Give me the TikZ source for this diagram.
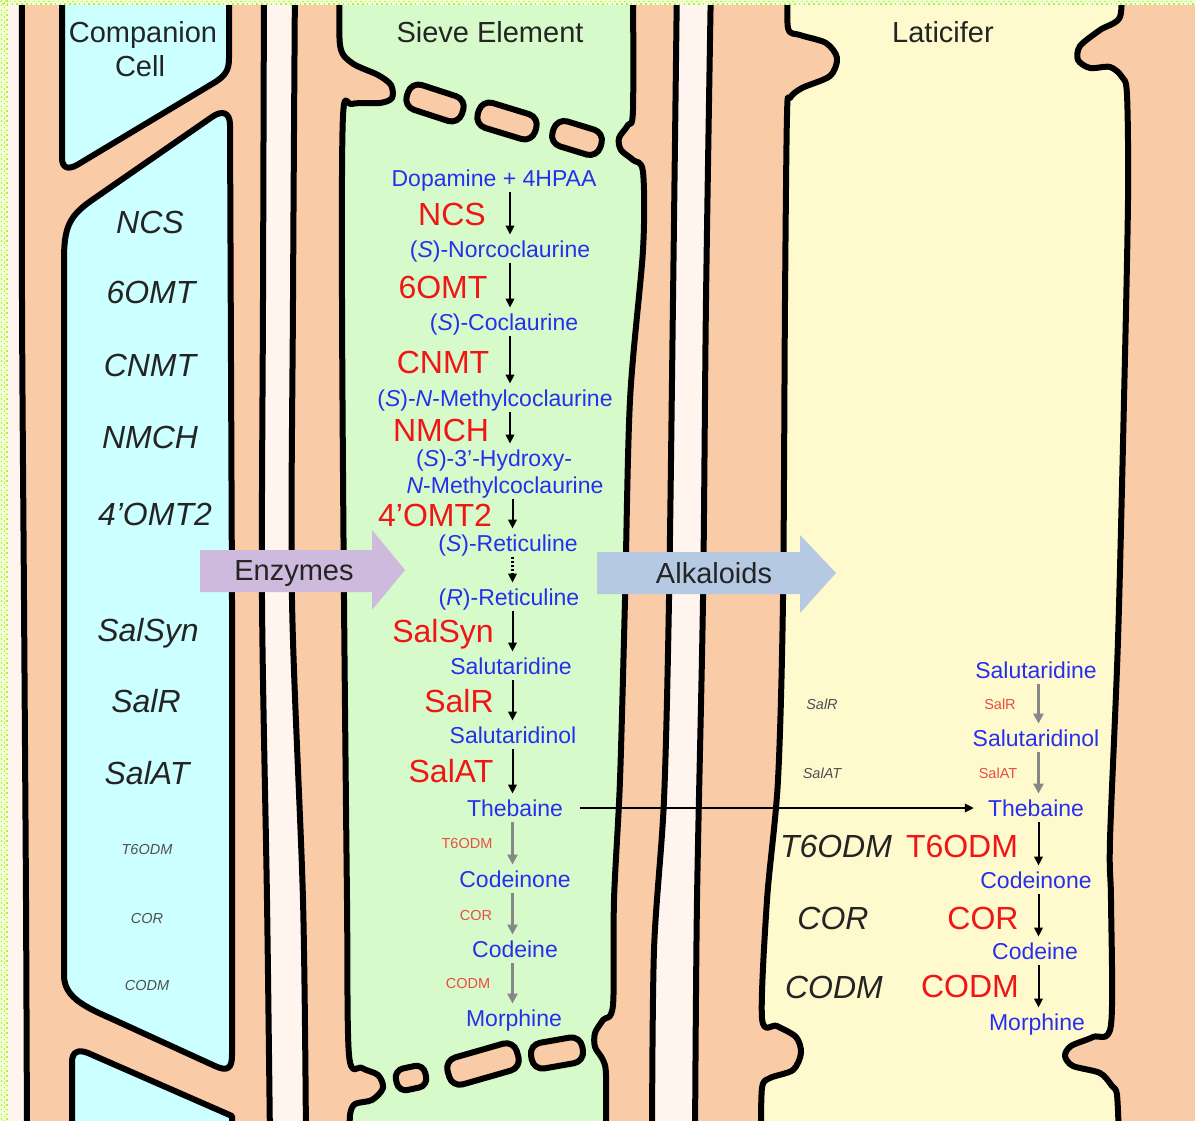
\documentclass[tikz,border=0pt]{standalone}
\usepackage{fontspec}
\setmainfont{Liberation Sans}
\usetikzlibrary{arrows.meta}

\definecolor{wallpeach}{RGB}{250,203,167}
\definecolor{compcyan}{RGB}{204,255,255}
\definecolor{sievegreen}{RGB}{214,250,201}
\definecolor{latyellow}{RGB}{255,250,206}
\definecolor{gapcream}{RGB}{255,245,238}
\definecolor{bandyellow}{RGB}{242,255,208}
\definecolor{banddot}{RGB}{176,238,80}
\definecolor{enzpurple}{RGB}{206,186,220}
\definecolor{alkblue}{RGB}{181,201,226}
\definecolor{metblue}{RGB}{38,48,236}
\definecolor{enzred}{RGB}{240,22,22}
\definecolor{smallred}{RGB}{232,78,66}
\definecolor{labelgray}{RGB}{36,36,36}
\definecolor{smallgray}{RGB}{80,80,80}
\definecolor{arrowgray}{RGB}{135,135,135}

\tikzset{
  wall/.style={line width=6pt, line join=round, line cap=round},
  plate/.style={wall, fill=wallpeach, rounded corners=11pt},
  header/.style={text=labelgray, font=\fontsize{29}{29}\selectfont, inner sep=0pt, text height=20.8pt, text depth=0pt},
  metab/.style={text=metblue, font=\fontsize{23}{23}\selectfont, inner sep=0pt, text height=16.5pt, text depth=0pt},
  enzlab/.style={text=enzred, font=\fontsize{32}{32}\selectfont, inner sep=0pt, text height=22.9pt, text depth=0pt},
  enzsmall/.style={text=smallred, font=\fontsize{14.5}{14.5}\selectfont, inner sep=0pt, text height=10.4pt, text depth=0pt},
  geneit/.style={text=labelgray, font=\fontsize{32}{32}\selectfont\itshape, inner sep=0pt, text height=22.9pt, text depth=0pt},
  genesmall/.style={text=smallgray, font=\fontsize{14.5}{14.5}\selectfont\itshape, inner sep=0pt, text height=10.4pt, text depth=0pt},
  conv/.style={-{Triangle[length=9pt,width=8.5pt]}, line width=2pt, shorten <=6pt, shorten >=6pt},
  convgray/.style={conv, draw=arrowgray, line width=2.6pt, -{Triangle[length=10pt,width=10pt]}}
}

\begin{document}
\begin{tikzpicture}[x=1pt,y=-1pt]
\useasboundingbox (0,0) rectangle (1195,1121);
\begin{scope}
\clip (0,0) rectangle (1195,1121);
% wall substance everywhere
\fill[wallpeach] (0,0) rectangle (1195,1121);

% outer strip on the left
\filldraw[wall, fill=gapcream] (-20,-20) -- plot[smooth] coordinates {(22,-20) (22,300) (24,600) (26,900) (27,1140)} -- (-20,1140) -- cycle;

% intercellular gaps
\filldraw[wall, fill=gapcream] plot[smooth] coordinates {(264,-20) (263,300) (262,600) (267,900) (270,1140)}
  -- plot[smooth] coordinates {(306,1140) (303,900) (292,600) (293,300) (295,-20)} -- cycle;
\filldraw[wall, fill=gapcream] plot[smooth] coordinates {(677,-20) (673,300) (669,600) (664,800) (654,950) (652,1140)}
  -- plot[smooth] coordinates {(695,1140) (697,900) (703,600) (706,300) (711,-20)} -- cycle;

% companion cells
\filldraw[wall, fill=compcyan] (62,-20) -- (62,158) .. controls (62,168) and (68,170) .. (77,165)
  -- (212,84) .. controls (226,76) and (229,70) .. (229,58) -- (229,-20) -- cycle;
\filldraw[wall, fill=compcyan] (232,600) -- (230,125) .. controls (230,112) and (222,110) .. (212,117)
  -- (95,198) .. controls (70,215) and (64,225) .. (64,260) -- (64,975)
  .. controls (64,995) and (80,1005) .. (110,1018) -- (215,1066)
  .. controls (228,1072) and (232,1068) .. (232,1055) -- cycle;
\filldraw[wall, fill=compcyan] (72,1140) -- (72,1062) .. controls (72,1052) and (78,1049) .. (88,1053)
  -- (232,1116) -- (232,1140) -- cycle;

% sieve element
\filldraw[wall, fill=sievegreen] plot[smooth, tension=0.5] coordinates {(340,-20) (340,45) (352,63) (378,75) (391,85) (392,98) (380,103) (352,104) (343,116) (342,300) (344,600) (347,900) (349,1055) (362,1068) (378,1075) (383,1088) (372,1100) (355,1104) (350,1115) (350,1140)}
  -- plot[smooth, tension=0.5] coordinates {(606,1140) (606,1075) (603,1060) (595,1047) (595,1033) (603,1020) (613,1005) (614,900) (620,780) (625,600) (630,400) (643,250) (643,172) (633,160) (621,150) (619,138) (628,125) (633,110) (633,-20)} -- cycle;

% sieve plates
\draw[plate, rotate around={-18:(435,103)}] (406,90) rectangle (464,116);
\draw[plate, rotate around={-17:(507,121)}] (477,108) rectangle (537,134);
\draw[plate, rotate around={-17:(577,138)}] (552,125) rectangle (602,151);
\draw[plate, rounded corners=9pt, rotate around={12:(411,1078)}] (396,1067) rectangle (426,1089);
\draw[plate, rotate around={16:(483,1064)}] (447,1050) rectangle (519,1078);
\draw[plate, rotate around={10:(557,1053)}] (531,1040) rectangle (583,1066);

% laticifer
\filldraw[wall, fill=latyellow] plot[smooth, tension=0.5] coordinates {(788,-20) (788,28) (800,35) (826,43) (837,58) (830,76) (802,88) (790,98) (787,115) (785,300) (783,600) (778,780) (767,900) (762,1018) (777,1026) (796,1037) (801,1053) (793,1070) (770,1078) (762,1088) (761,1140)}
  -- plot[smooth, tension=0.5] coordinates {(1119,1140) (1117,1095) (1112,1086) (1100,1073) (1073,1066) (1065,1056) (1071,1046) (1093,1037) (1111,1025) (1111,900) (1110,840) (1118,640) (1124,400) (1128,200) (1127,95) (1122,77) (1110,67) (1090,68) (1078,60) (1080,46) (1100,30) (1120,17) (1121,-20)} -- cycle;

% frame band
\fill[bandyellow] (0,0) rectangle (1195,5);
\fill[bandyellow] (0,0) rectangle (8,1121);
\draw[banddot, line width=1.6pt, dash pattern=on 1.6pt off 3.2pt] (0,1.5) -- (1195,1.5);
\draw[banddot, line width=1.6pt, dash pattern=on 1.6pt off 3.2pt] (2,3.9) -- (1195,3.9);
\draw[banddot, line width=1.6pt, dash pattern=on 1.6pt off 3.2pt] (1.5,0) -- (1.5,1121);
\draw[banddot, line width=1.6pt, dash pattern=on 1.6pt off 3.2pt] (4.4,2) -- (4.4,1121);
\draw[banddot, line width=1.6pt, dash pattern=on 1.6pt off 3.2pt] (7,0) -- (7,1121);
\end{scope}

% transport arrows
\fill[enzpurple] (200,550) -- (372,550) -- (372,530) -- (405,570) -- (372,610) -- (372,592) -- (200,592) -- cycle;
\fill[alkblue] (597,552) -- (800,552) -- (800,535) -- (836,573) -- (800,613) -- (800,594) -- (597,594) -- cycle;
\node[header] (enz) at (294,570) {Enzymes};
\node[header] (alk) at (714,573) {Alkaloids};

% cell names
\node[header] (hdcompA) at (143,32) {Companion};
\node[header] (hdcompB) at (140,66) {Cell};
\node[header] (hdsieve) at (490,32) {Sieve Element};
\node[header] (hdlat) at (943,32) {Laticifer};

% enzymes found in the companion cell
\node[geneit] (cNCS) at (150,222) {NCS};
\node[geneit] (c6OMT) at (151,292) {6OMT};
\node[geneit] (cCNMT) at (150,365) {CNMT};
\node[geneit] (cNMCH) at (150,437) {NMCH};
\node[geneit] (c4OMT) at (155,514) {4’OMT2};
\node[geneit] (cSalSyn) at (148,630) {SalSyn};
\node[geneit] (cSalR) at (146,701) {SalR};
\node[geneit] (cSalAT) at (147,773) {SalAT};
\node[genesmall] (cT6) at (147,849) {T6ODM};
\node[genesmall] (cCOR) at (147,918) {COR};
\node[genesmall] (cCODM) at (147,985) {CODM};

% pathway in the sieve element
\coordinate (sAxA) at (510,0);
\coordinate (sAxB) at (512.5,0);
\node[metab] (sDopa) at (494,178) {Dopamine + 4HPAA};
\node[metab] (sNorco) at (500,249) {(\textit{S})-Norcoclaurine};
\node[metab] (sCocl) at (504,322) {(\textit{S})-Coclaurine};
\node[metab] (sNMC) at (495,398) {(\textit{S})-\textit{N}-Methylcoclaurine};
\node[metab] (sHyd) at (494,458) {(\textit{S})-3’-Hydroxy-};
\node[metab] (sHydB) at (505,485) {\textit{N}-Methylcoclaurine};
\node[metab] (sSRet) at (508,543) {(\textit{S})-Reticuline};
\node[metab] (sRRet) at (509,597) {(\textit{R})-Reticuline};
\node[metab] (sSalut) at (511,666) {Salutaridine};
\node[metab] (sSalol) at (513,735) {Salutaridinol};
\node[metab] (sTheb) at (515,808) {Thebaine};
\node[metab] (sCodone) at (515,879) {Codeinone};
\node[metab] (sCodeine) at (515,949) {Codeine};
\node[metab] (sMorph) at (514,1018) {Morphine};

\node[enzlab] (eNCS) at (452,214) {NCS};
\node[enzlab] (e6OMT) at (443,287) {6OMT};
\node[enzlab] (eCNMT) at (443,362) {CNMT};
\node[enzlab] (eNMCH) at (441,430) {NMCH};
\node[enzlab] (e4OMT) at (435,515) {4’OMT2};
\node[enzlab] (eSalSyn) at (443,631) {SalSyn};
\node[enzlab] (eSalR) at (459,701) {SalR};
\node[enzlab] (eSalAT) at (451,771) {SalAT};
\node[enzsmall] (eT6) at (467,843) {T6ODM};
\node[enzsmall] (eCOR) at (476,915) {COR};
\node[enzsmall] (eCODM) at (468,983) {CODM};

\draw[conv] (sDopa.south -| sAxA) -- (sNorco.north -| sAxA);
\draw[conv] (sNorco.south -| sAxA) -- (sCocl.north -| sAxA);
\draw[conv] (sCocl.south -| sAxA) -- (sNMC.north -| sAxA);
\draw[conv] (sNMC.south -| sAxA) -- (sHyd.north -| sAxA);
\draw[conv] (sHydB.south -| sAxB) -- (sSRet.north -| sAxB);
\draw[conv, dotted, line width=2.2pt] (sSRet.south -| sAxB) -- (sRRet.north -| sAxB);
\draw[conv] (sRRet.south -| sAxB) -- (sSalut.north -| sAxB);
\draw[conv] (sSalut.south -| sAxB) -- (sSalol.north -| sAxB);
\draw[conv] (sSalol.south -| sAxB) -- (sTheb.north -| sAxB);
\draw[convgray] (sTheb.south -| sAxB) -- (sCodone.north -| sAxB);
\draw[convgray] (sCodone.south -| sAxB) -- (sCodeine.north -| sAxB);
\draw[convgray] (sCodeine.south -| sAxB) -- (sMorph.north -| sAxB);

% pathway in the laticifer
\coordinate (lAx) at (1038.5,0);
\node[metab] (lSalut) at (1036,670) {Salutaridine};
\node[metab] (lSalol) at (1036,738) {Salutaridinol};
\node[metab] (lTheb) at (1036,808) {Thebaine};
\node[metab] (lCodone) at (1036,880) {Codeinone};
\node[metab] (lCodeine) at (1035,951) {Codeine};
\node[metab] (lMorph) at (1037,1022) {Morphine};

\node[genesmall] (lgSalR) at (822,704) {SalR};
\node[genesmall] (lgSalAT) at (822,773) {SalAT};
\node[geneit] (lgT6) at (836,846) {T6ODM};
\node[geneit] (lgCOR) at (833,918) {COR};
\node[geneit] (lgCODM) at (834,987) {CODM};

\node[enzsmall] (leSalR) at (1000,704) {SalR};
\node[enzsmall] (leSalAT) at (998,773) {SalAT};
\node[enzlab] (leT6) at (962,846) {T6ODM};
\node[enzlab] (leCOR) at (983,918) {COR};
\node[enzlab] (leCODM) at (970,986) {CODM};

\draw[convgray] (lSalut.south -| lAx) -- (lSalol.north -| lAx);
\draw[convgray] (lSalol.south -| lAx) -- (lTheb.north -| lAx);
\draw[conv] (lTheb.south -| lAx) -- (lCodone.north -| lAx);
\draw[conv] (lCodone.south -| lAx) -- (lCodeine.north -| lAx);
\draw[conv] (lCodeine.south -| lAx) -- (lMorph.north -| lAx);

% thebaine moves from sieve element to laticifer
\draw[conv, shorten <=17pt, shorten >=14pt] (sTheb.east) -- (lTheb.west);
\end{tikzpicture}
\end{document}
